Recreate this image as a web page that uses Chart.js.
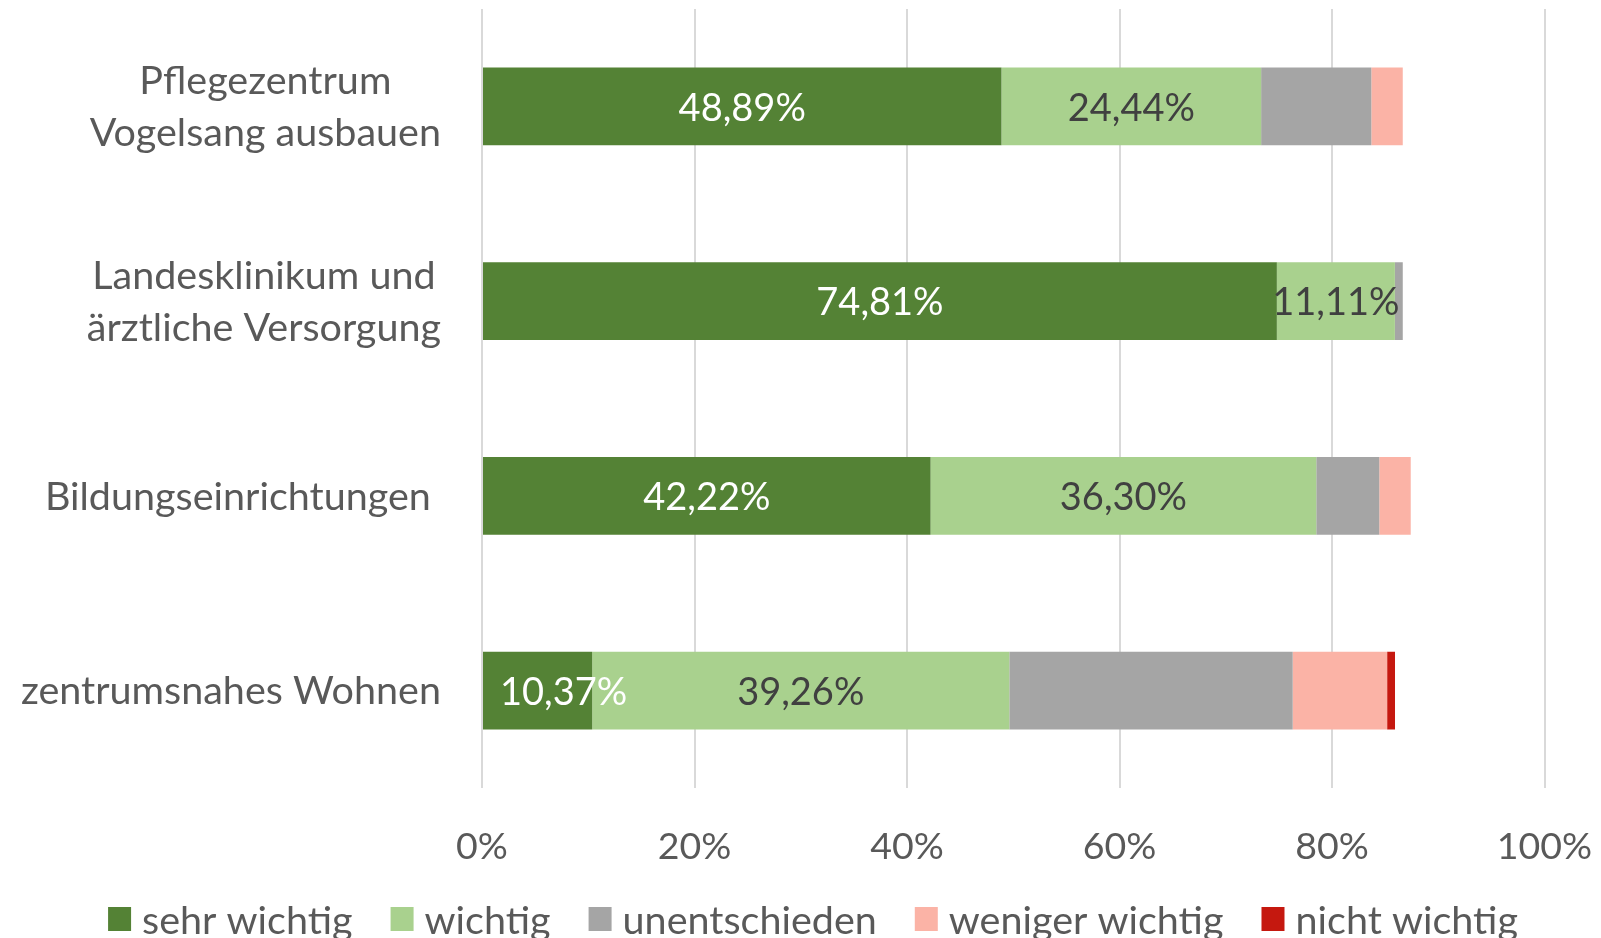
<!DOCTYPE html>
<html>
<head>
<meta charset="utf-8">
<script src="https://cdn.jsdelivr.net/npm/chart.js@4.4.1/dist/chart.umd.min.js"></script>
<style>
    html, body { margin: 0; padding: 0; background: #fff; }
    #box { width: 1601px; height: 938px; }
</style>
</head>
<body>
<div id="box"><canvas id="chart"></canvas></div>
<script>
const categories = [
    ["Pflegezentrum", "Vogelsang ausbauen"],
    ["Landesklinikum und", "ärztliche Versorgung"],
    ["Bildungseinrichtungen "],
    ["zentrumsnahes Wohnen"]
];
const sehrWichtig = [48.89, 74.81, 42.22, 10.37];
const wichtig = [24.44, 11.11, 36.30, 39.26];
const unentschieden = [10.37, 0.74, 5.93, 26.67];
const wenigerWichtig = [2.96, 0, 2.96, 8.89];
const nichtWichtig = [0, 0, 0, 0.74];
const xTicks = [0, 20, 40, 60, 80, 100];

const FONT = "Lato";
const textGray = "#595959";

// value labels on the two green series
const valueLabels = {
    id: "valueLabels",
    afterDatasetsDraw(chart) {
        const ctx = chart.ctx;
        const left = chart.chartArea.left;
        ctx.save();
        ctx.font = "38px " + FONT;
        ctx.textAlign = "center";
        ctx.textBaseline = "middle";
        [0, 1].forEach(i => {
            const meta = chart.getDatasetMeta(i);
            meta.data.forEach((bar, j) => {
                const v = chart.data.datasets[i].data[j];
                if (!v) return;
                const txt = v.toFixed(2).replace(".", ",") + "%";
                const w = ctx.measureText(txt).width;
                let cx = (bar.x + bar.base) / 2;
                cx = Math.max(cx, left + w / 2 + 18);
                ctx.fillStyle = i === 0 ? "#ffffff" : "#404040";
                ctx.fillText(txt, cx, bar.y + 2);
            });
        });
        ctx.restore();
    }
};

// category labels: block right aligned, lines centred
const categoryLabels = {
    id: "categoryLabels",
    afterDraw(chart) {
        const ctx = chart.ctx;
        const y = chart.scales.y;
        const right = chart.chartArea.left - 41;
        const lh = 52;
        ctx.save();
        ctx.font = "39.5px " + FONT;
        ctx.fillStyle = textGray;
        ctx.textAlign = "center";
        ctx.textBaseline = "middle";
        categories.forEach((lines, i) => {
            const cy = y.getPixelForValue(i) + 1;
            const bw = Math.max(...lines.map(l => ctx.measureText(l).width));
            const cx = right - bw / 2;
            lines.forEach((l, k) => {
                ctx.fillText(l, cx, cy + (k - (lines.length - 1) / 2) * lh);
            });
        });
        ctx.restore();
    }
};

// legend along the bottom, box then text
const bottomLegend = {
    id: "bottomLegend",
    afterDraw(chart) {
        const ctx = chart.ctx;
        const sets = chart.data.datasets;
        const boxW = 23, boxH = 24, gap = 11, spacing = 38;
        const cy = 919, centre = 813;
        ctx.save();
        ctx.font = "39.5px " + FONT;
        ctx.textBaseline = "middle";
        ctx.textAlign = "left";
        const widths = sets.map(d => boxW + gap + ctx.measureText(d.label).width);
        const total = widths.reduce((a, b) => a + b, 0) + spacing * (sets.length - 1);
        let x = centre - total / 2;
        sets.forEach((d, i) => {
            ctx.fillStyle = d.backgroundColor;
            ctx.fillRect(x, cy - boxH / 2, boxW, boxH);
            ctx.fillStyle = textGray;
            ctx.fillText(d.label, x + boxW + gap, cy + 2);
            x += widths[i] + spacing;
        });
        ctx.restore();
    }
};

new Chart(document.getElementById("chart"), {
    type: "bar",
    data: {
        labels: categories,
        datasets: [
            { label: "sehr wichtig", data: sehrWichtig, backgroundColor: "#548235" },
            { label: "wichtig", data: wichtig, backgroundColor: "#A9D18E" },
            { label: "unentschieden", data: unentschieden, backgroundColor: "#A5A5A5" },
            { label: "weniger wichtig", data: wenigerWichtig, backgroundColor: "#FBB3A6" },
            { label: "nicht wichtig", data: nichtWichtig, backgroundColor: "#C5180F" }
        ]
    },
    options: {
        indexAxis: "y",
        responsive: true,
        maintainAspectRatio: false,
        animation: false,
        datasets: {
            bar: { barPercentage: 0.4, categoryPercentage: 1 }
        },
        layout: {
            padding: { top: 9, right: 56.5, left: 0, bottom: 66 }
        },
        plugins: {
            legend: { display: false },
            tooltip: { enabled: false }
        },
        scales: {
            x: {
                stacked: true,
                min: 0,
                max: 100,
                afterBuildTicks(scale) {
                    scale.ticks = xTicks.map(v => ({ value: v }));
                },
                afterFit(scale) {
                    scale.height = 84;
                    scale.paddingLeft = 0;
                    scale.paddingRight = 0;
                },
                grid: { color: "#D9D9D9", lineWidth: 2, drawTicks: false },
                border: { display: false },
                ticks: {
                    padding: 36,
                    color: textGray,
                    font: { family: FONT, size: 37.5 },
                    callback: v => v + "%"
                }
            },
            y: {
                stacked: true,
                afterFit(scale) {
                    scale.width = 482;
                },
                grid: { display: false },
                border: { display: false },
                ticks: { display: false }
            }
        }
    },
    plugins: [valueLabels, categoryLabels, bottomLegend]
});
</script>
</body>
</html>
